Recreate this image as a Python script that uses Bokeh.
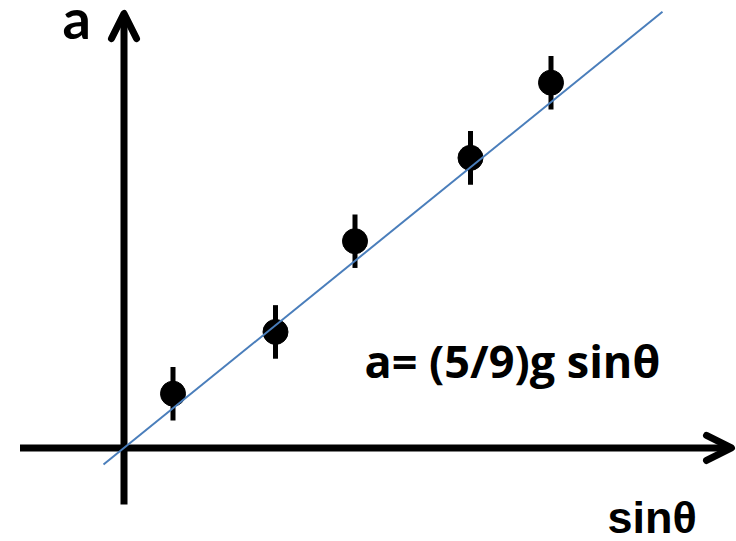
from bokeh.plotting import figure
from bokeh.models import Range1d, Arrow, OpenHead, Label
from bokeh.embed import file_html
from bokeh.resources import INLINE

# Measured points: sin(theta) and acceleration a (m/s^2) with error half-widths
sin_theta = [0.098, 0.303, 0.462, 0.693, 0.854]
accel = [0.73, 1.56, 2.78, 3.90, 4.91]
accel_err = [0.36, 0.36, 0.36, 0.36, 0.36]

# Model line a = (5/9) g sin(theta)
g = 9.8
slope = 5.0 / 9.0 * g
fit_sin = [-0.041, 1.077]
fit_a = [slope * s for s in fit_sin]

# Axis arrow extents (data units)
x_axis_span = [-0.208, 1.215]
y_axis_span = [-0.759, 5.84]

p = figure(width=736, height=541, output_backend="svg", toolbar_location=None,
           x_range=Range1d(-0.247, 1.225), y_range=Range1d(-1.257, 6.015),
           x_axis_location=None, y_axis_location=None, min_border=0)
p.grid.visible = False
p.outline_line_color = None
p.background_fill_color = "white"
p.border_fill_color = "white"

# Hand-drawn style axes with open arrow heads
for (x0, y0, x1, y1) in [(x_axis_span[0], 0, x_axis_span[1], 0),
                         (0, y_axis_span[0], 0, y_axis_span[1])]:
    head = OpenHead(size=25, line_width=7, line_color="black",
                    line_join="round", line_cap="round")
    p.add_layout(Arrow(x_start=x0, y_start=y0, x_end=x1, y_end=y1,
                       line_width=7, line_color="black", end=head,
                       level="underlay"))

# Error bars and points
p.segment(x0=sin_theta, y0=[a - e for a, e in zip(accel, accel_err)],
          x1=sin_theta, y1=[a + e for a, e in zip(accel, accel_err)],
          line_width=5, line_color="black")
p.scatter(sin_theta, accel, size=25, fill_color="black", line_color="black")

# Fitted line on top
p.line(fit_sin, fit_a, line_color="#4A7EBB", line_width=2)

p.add_layout(Label(x=62, y=524, x_units="screen", y_units="screen", text="a",
                   text_font="Lato", text_font_style="bold", text_font_size="56px",
                   text_baseline="alphabetic", text_color="black"))
p.add_layout(Label(x=607, y=24, x_units="screen", y_units="screen", text="sinθ",
                   text_font="Liberation Sans", text_font_style="bold",
                   text_font_size="45px", text_baseline="alphabetic", text_color="black"))
p.add_layout(Label(x=364, y=181, x_units="screen", y_units="screen",
                   text="a= (5/9)g sinθ",
                   text_font="Open Sans", text_font_style="bold", text_font_size="45px",
                   text_baseline="alphabetic", text_color="black"))

open("out.html", "w").write(file_html(p, INLINE))
